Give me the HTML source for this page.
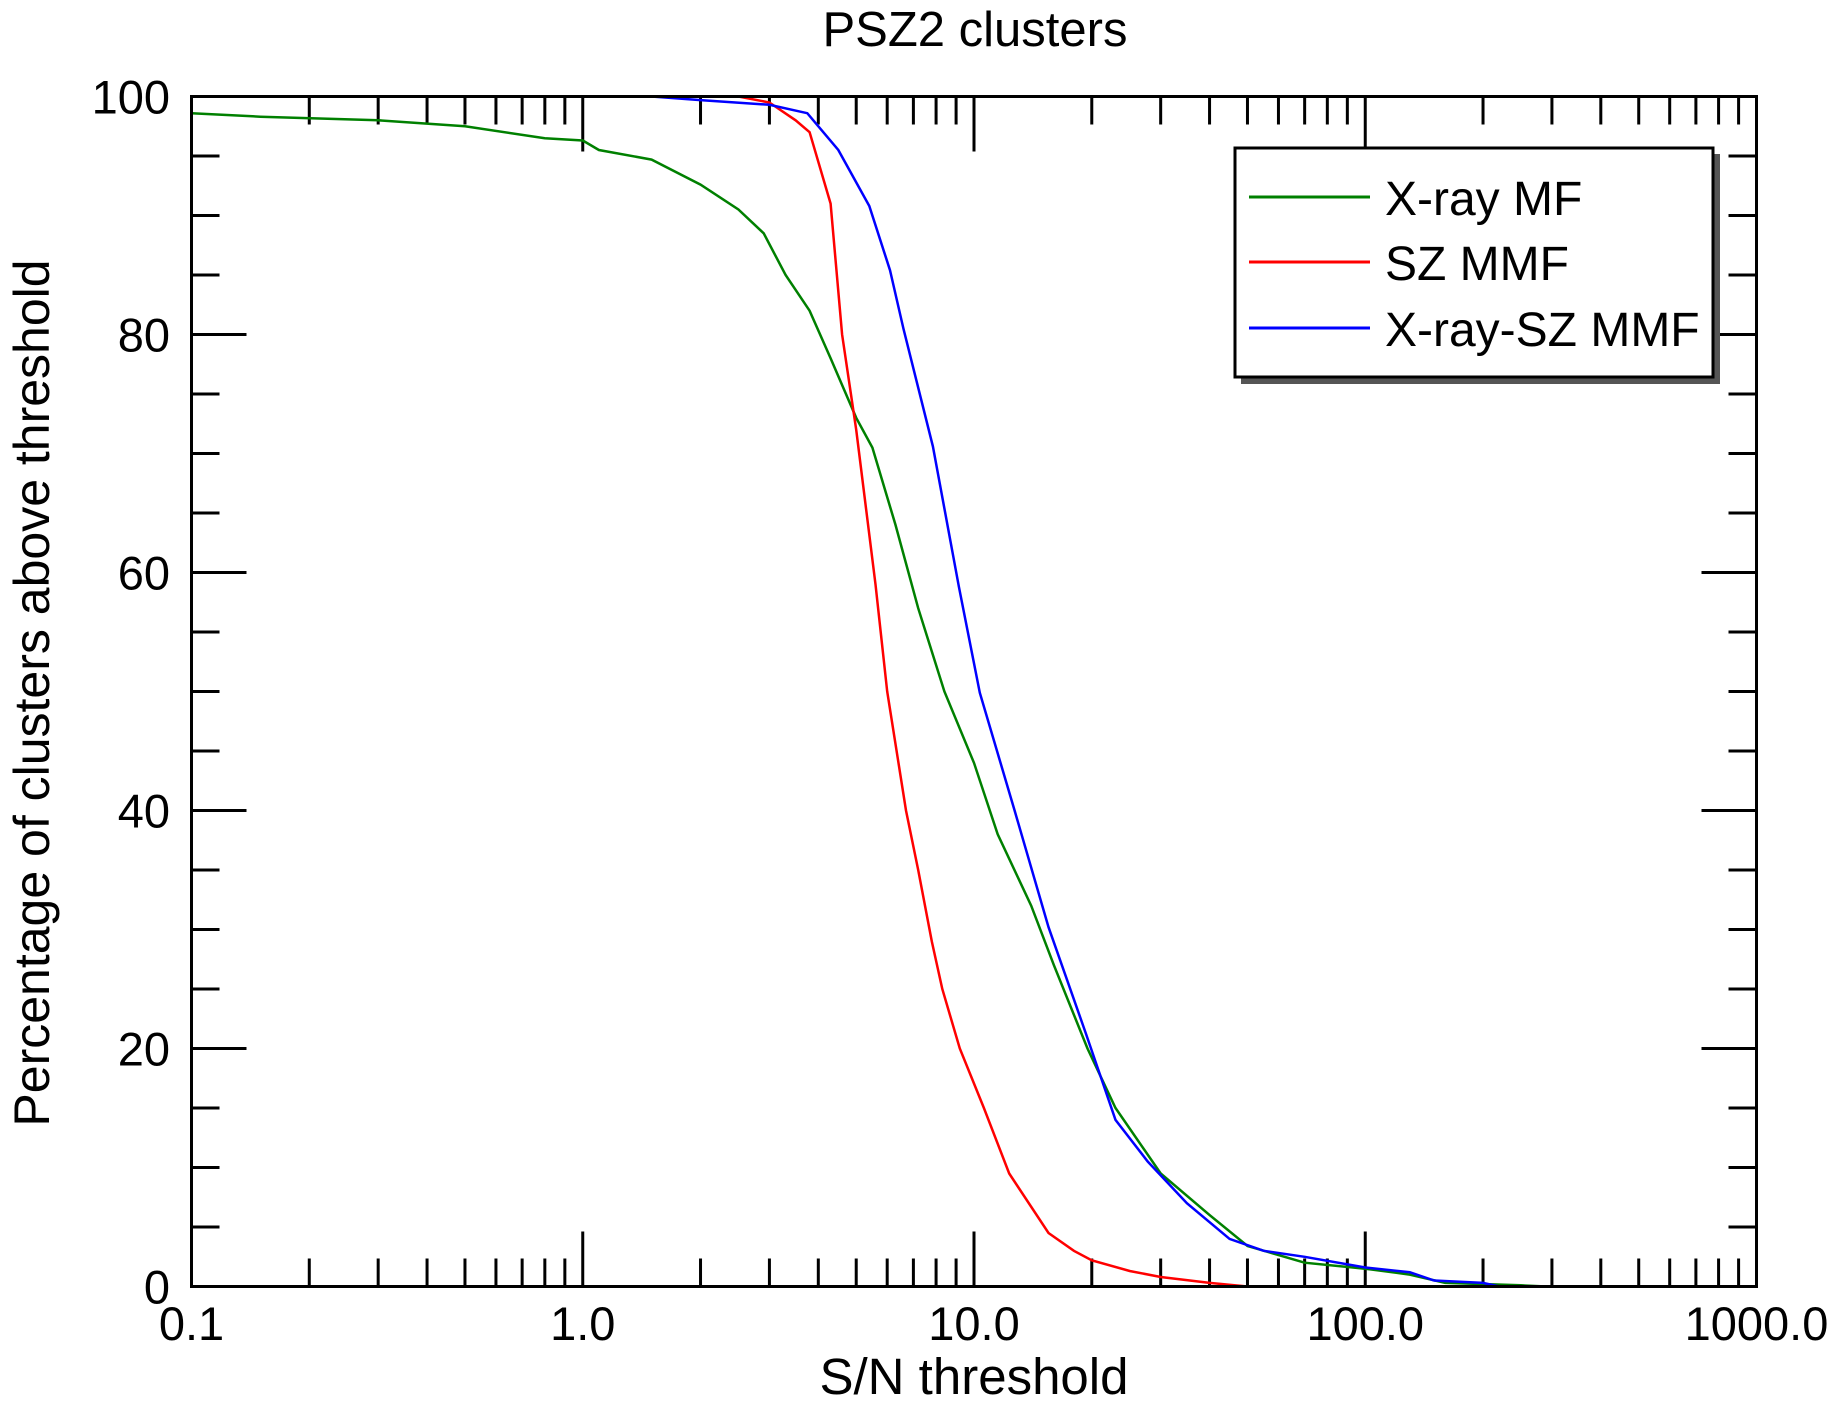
<!DOCTYPE html>
<html><head><meta charset="utf-8"><style>
html,body{margin:0;padding:0;background:#fff;}
svg{display:block;font-family:"Liberation Sans",sans-serif;}
</style></head><body>
<svg id="chart" width="1841" height="1410" viewBox="0 0 1841 1410" xmlns="http://www.w3.org/2000/svg">
<text x="975" y="46" font-size="49" text-anchor="middle">PSZ2 clusters</text>
<g id="ticks"></g>
<g id="series"></g>
<rect x="191.5" y="96.5" width="1565" height="1190" fill="none" stroke="#000" stroke-width="3"/>
<text x="974" y="1394" font-size="51" text-anchor="middle">S/N threshold</text>
<text transform="translate(49,693) rotate(-90)" font-size="50" text-anchor="middle">Percentage of clusters above threshold</text>
<g>
<rect x="1241" y="154" width="479" height="230" fill="#555"/>
<rect x="1235" y="148" width="478" height="229" fill="#fff" stroke="#000" stroke-width="3"/>
<line x1="1249" y1="197" x2="1370" y2="197" stroke="#008000" stroke-width="3"/>
<text x="1385" y="215" font-size="48">X-ray MF</text>
<line x1="1249" y1="262" x2="1370" y2="262" stroke="#ff0000" stroke-width="3"/>
<text x="1385" y="280" font-size="48">SZ MMF</text>
<line x1="1249" y1="328" x2="1370" y2="328" stroke="#0000ff" stroke-width="3"/>
<text x="1385" y="346" font-size="48">X-ray-SZ MMF</text>
</g>
</svg>
<script>
const xTickLabels=["0.1","1.0","10.0","100.0","1000.0"];
const yTickLabels=["0","20","40","60","80","100"];
const greenX=[0.1,0.15,0.3,0.5,0.8,1.0,1.1,1.5,2.0,2.5,2.9,3.3,3.8,4.3,5.0,5.5,6.3,7.2,8.4,10,11.5,14,16,19.5,23,30,40,50,70,100,130,160,250,290];
const greenY=[98.6,98.3,98,97.5,96.5,96.3,95.5,94.7,92.6,90.5,88.5,85,82,78,73,70.5,64,57,50,44,38,32,27,20,15,9.5,6,3.4,2,1.5,1.0,0.3,0.1,0];
const redX=[1.0,2.5,3.0,3.5,3.8,4.3,4.6,5.0,5.6,6.0,6.7,7.2,7.8,8.3,9.2,10.6,12.3,15.5,18,20,25,30,40,50];
const redY=[100,100,99.5,98,97,91,80,72,59,50,40,35,29,25,20,15,9.5,4.5,3,2.2,1.3,0.8,0.3,0];
const blueX=[1.0,1.5,2.0,3.0,3.75,4.5,5.4,6.1,6.6,7.85,9.15,10.35,12.7,15.5,19.3,23,27.8,35,45,55,70,100,130,150,200,220];
const blueY=[100,100,99.7,99.3,98.6,95.5,90.8,85.4,80.5,70.6,58.8,49.9,40,30.2,21.3,14,10.5,7,4,3,2.5,1.6,1.2,0.5,0.3,0];
const L=191.5,R=1756.5,T=96.5,B=1286.5;
function xs(v){return L+(Math.log10(v)+1)/4*(R-L);}
function ys(v){return B-v/100*(B-T);}
const NS="http://www.w3.org/2000/svg";
const tg=document.getElementById('ticks');
function ln(x1,y1,x2,y2,name){const l=document.createElementNS(NS,'line');
l.setAttribute('x1',x1);l.setAttribute('y1',y1);l.setAttribute('x2',x2);l.setAttribute('y2',y2);
l.setAttribute('stroke','#000');l.setAttribute('stroke-width','3');


tg.appendChild(l);}
function tx(x,y,s,anchor,name){const t=document.createElementNS(NS,'text');
t.setAttribute('x',x);t.setAttribute('y',y);t.setAttribute('font-size','47');t.setAttribute('text-anchor',anchor);t.textContent=s;


tg.appendChild(t);}
for(let d=0;d<4;d++){const base=Math.pow(10,d-1);
 for(let k=1;k<10;k++){const x=xs(base*k);const len=k===1?55:28;
  ln(x,B,x,B-len,'x-tick');ln(x,T,x,T+len,'x-tick');}}
xTickLabels.forEach((s,i)=>tx(xs(Math.pow(10,i-1)),1340,s,'middle','x-tick-label'));
for(let v=0;v<=100;v+=5){const y=ys(v);const len=v%20===0?55:28;
 ln(L,y,L+len,y,'y-tick');ln(R,y,R-len,y,'y-tick');}
yTickLabels.forEach((s,i)=>tx(170,ys(i*20)+17,s,'end','y-tick-label'));
const sg=document.getElementById('series');
function series(X,Y,col,name){const p=document.createElementNS(NS,'polyline');
p.setAttribute('points',X.map((x,i)=>xs(x).toFixed(1)+','+ys(Y[i]).toFixed(1)).join(' '));
p.setAttribute('fill','none');p.setAttribute('stroke',col);p.setAttribute('stroke-width','2.5');


sg.appendChild(p);}
series(greenX,greenY,'#008000','xray-mf-line');
series(redX,redY,'#ff0000','sz-mmf-line');
series(blueX,blueY,'#0000ff','xray-sz-mmf-line');
</script>
</body></html>
